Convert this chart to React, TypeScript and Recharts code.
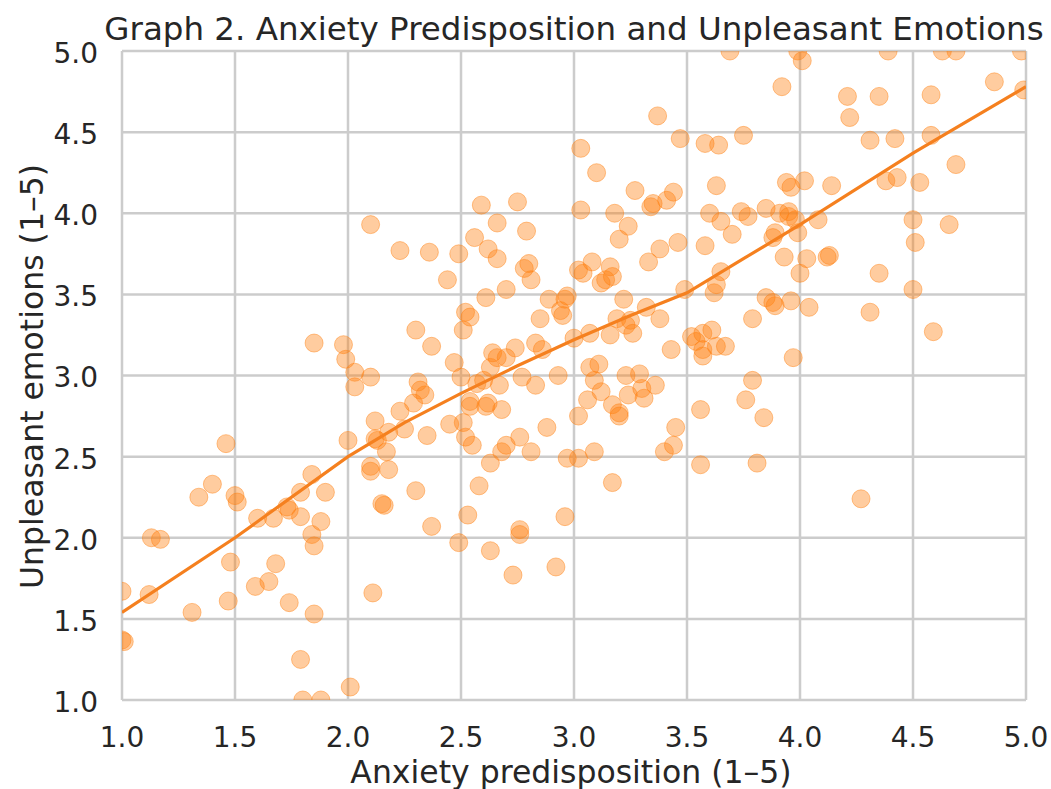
import { ScatterChart, Scatter, XAxis, YAxis, CartesianGrid } from 'recharts';

// anxiety predisposition (x) vs unpleasant emotions (y), one pair per respondent
const responses: [number, number][] = [
  [1.0, 1.67], [1.0, 1.37], [1.01, 1.36], [1.12, 1.65], [1.13, 2.0], [1.17, 1.99],
  [1.31, 1.54], [1.34, 2.25], [1.4, 2.33], [1.46, 2.58], [1.47, 1.61], [1.48, 1.85],
  [1.5, 2.26], [1.51, 2.22], [1.59, 1.7], [1.6, 2.12], [1.65, 1.73], [1.67, 2.12],
  [1.68, 1.84], [1.73, 2.19], [1.74, 2.17], [1.74, 1.6], [1.79, 2.28], [1.79, 2.13],
  [1.79, 1.25], [1.8, 1.0], [1.84, 2.39], [1.84, 2.02], [1.85, 1.95], [1.85, 1.53],
  [1.85, 3.2], [1.88, 1.0], [1.88, 2.1], [1.9, 2.28], [1.98, 3.19], [1.99, 3.1],
  [2.0, 2.6], [2.01, 1.08], [2.03, 3.02], [2.03, 2.93], [2.1, 3.93], [2.1, 2.99],
  [2.1, 2.44], [2.1, 2.41], [2.11, 1.66], [2.12, 2.72], [2.12, 2.61], [2.13, 2.6],
  [2.15, 2.21], [2.16, 2.2], [2.17, 2.53], [2.18, 2.42], [2.18, 2.65], [2.23, 3.77],
  [2.23, 2.78], [2.25, 2.67], [2.29, 2.83], [2.3, 2.29], [2.3, 3.28], [2.31, 2.96],
  [2.32, 2.91], [2.34, 2.88], [2.35, 2.63], [2.36, 3.76], [2.37, 3.18], [2.37, 2.07],
  [2.44, 3.59], [2.45, 2.7], [2.47, 3.08], [2.49, 3.75], [2.49, 1.97], [2.5, 2.99],
  [2.51, 2.71], [2.51, 3.28], [2.52, 3.39], [2.52, 2.62], [2.53, 2.14], [2.54, 3.36],
  [2.54, 2.84], [2.54, 2.81], [2.55, 2.57], [2.56, 3.85], [2.57, 2.95], [2.58, 2.32],
  [2.59, 4.05], [2.6, 2.97], [2.61, 2.81], [2.61, 3.48], [2.62, 3.78], [2.62, 2.83],
  [2.63, 3.05], [2.63, 2.46], [2.63, 1.92], [2.64, 3.14], [2.66, 3.94], [2.66, 3.72],
  [2.66, 3.11], [2.67, 2.94], [2.68, 2.79], [2.68, 2.53], [2.7, 2.57], [2.7, 3.53],
  [2.7, 3.11], [2.73, 1.77], [2.74, 3.17], [2.75, 4.07], [2.76, 2.62], [2.76, 2.05],
  [2.76, 2.02], [2.77, 2.99], [2.78, 3.66], [2.79, 3.89], [2.8, 3.69], [2.81, 2.53],
  [2.81, 3.59], [2.83, 3.2], [2.83, 2.94], [2.85, 3.35], [2.86, 3.16], [2.88, 2.68],
  [2.89, 3.47], [2.92, 1.82], [2.93, 3.0], [2.94, 3.4], [2.95, 3.37], [2.96, 3.47],
  [2.96, 2.13], [2.97, 2.49], [2.97, 3.49], [3.0, 3.23], [3.02, 2.49], [3.02, 2.75],
  [3.02, 3.65], [3.03, 4.4], [3.03, 4.02], [3.04, 3.63], [3.06, 2.85], [3.07, 3.05],
  [3.07, 3.26], [3.08, 3.7], [3.09, 2.53], [3.09, 2.97], [3.1, 4.25], [3.11, 3.07],
  [3.12, 2.9], [3.12, 3.57], [3.14, 3.59], [3.16, 3.67], [3.16, 3.25], [3.17, 2.34],
  [3.17, 2.82], [3.18, 4.0], [3.17, 3.61], [3.19, 3.35], [3.2, 3.84], [3.2, 2.77],
  [3.2, 2.75], [3.22, 3.47], [3.23, 3.0], [3.23, 3.31], [3.24, 3.92], [3.24, 2.88],
  [3.25, 3.34], [3.26, 3.26], [3.27, 4.14], [3.29, 3.01], [3.3, 2.92], [3.31, 2.86],
  [3.32, 3.42], [3.33, 3.7], [3.34, 4.04], [3.35, 4.06], [3.36, 2.94], [3.37, 4.6],
  [3.38, 3.78], [3.38, 3.35], [3.4, 2.53], [3.41, 4.08], [3.43, 3.16], [3.44, 2.57],
  [3.44, 4.13], [3.45, 2.68], [3.46, 3.82], [3.47, 4.46], [3.49, 3.53], [3.52, 3.24],
  [3.54, 3.21], [3.56, 2.79], [3.56, 2.45], [3.57, 3.16], [3.57, 3.12], [3.57, 3.26],
  [3.58, 4.43], [3.58, 3.8], [3.6, 4.0], [3.61, 3.28], [3.62, 3.51], [3.63, 4.17],
  [3.63, 3.56], [3.63, 3.18], [3.64, 4.42], [3.65, 3.95], [3.65, 3.64], [3.67, 3.18],
  [3.69, 5.0], [3.7, 3.87], [3.74, 4.01], [3.75, 4.48], [3.76, 2.85], [3.77, 3.98],
  [3.79, 3.35], [3.79, 2.97], [3.81, 2.46], [3.84, 2.74], [3.85, 4.03], [3.85, 3.48],
  [3.88, 3.85], [3.88, 3.45], [3.89, 3.88], [3.89, 3.43], [3.91, 4.0], [3.92, 4.78],
  [3.93, 3.73], [3.94, 4.19], [3.95, 4.01], [3.95, 3.98], [3.96, 4.16], [3.96, 3.46],
  [3.97, 3.11], [3.98, 3.96], [3.99, 3.88], [3.99, 5.0], [4.0, 3.63], [4.01, 4.94],
  [4.02, 4.2], [4.03, 3.72], [4.04, 3.42], [4.08, 3.96], [4.12, 3.73], [4.13, 3.74],
  [4.14, 4.17], [4.21, 4.72], [4.22, 4.59], [4.31, 4.45], [4.31, 3.39], [4.27, 2.24],
  [4.35, 4.72], [4.35, 3.63], [4.38, 4.2], [4.39, 5.0], [4.42, 4.46], [4.43, 4.22],
  [4.5, 3.53], [4.5, 3.96], [4.51, 3.82], [4.53, 4.19], [4.58, 4.73], [4.58, 4.48],
  [4.59, 3.27], [4.63, 5.0], [4.69, 5.0], [4.66, 3.93], [4.69, 4.3], [4.86, 4.81],
  [4.98, 5.0], [4.99, 4.76],
];

// smoothed trend
const trendX = [1.0, 1.5, 2.0, 2.25, 2.5, 2.75, 3.0, 3.25, 3.5, 3.75, 4.0, 4.5, 5.0];
const trendY = [1.54, 2.0, 2.5, 2.71, 2.89, 3.06, 3.22, 3.37, 3.51, 3.72, 3.93, 4.37, 4.78];

const ticks = [1.0, 1.5, 2.0, 2.5, 3.0, 3.5, 4.0, 4.5, 5.0];

const points = responses.map(([x, y]) => ({ x, y }));
const trend = trendX.map((x, i) => ({ x, y: trendY[i] }));

const FONT = '"DejaVu Sans", sans-serif';
const INK = '#262626';
const ORANGE = '#ff7f0e';

const Dot = (props: any) => (
  <circle
    cx={props.cx}
    cy={props.cy}
    r={9}
    fill={ORANGE}
    fillOpacity={0.4}
    stroke={ORANGE}
    strokeOpacity={0.45}
    strokeWidth={1}
  />
);

const NoDot = () => <g />;

const YTitle = (props: any) => {
  const { viewBox } = props;
  const cx = 43;
  const cy = viewBox.y + viewBox.height / 2 + 1;
  return (
    <text
      x={cx}
      y={cy}
      transform={`rotate(-90, ${cx}, ${cy})`}
      textAnchor="middle"
      fontSize={31.5}
      fontFamily={FONT}
      fill={INK}
    >
      Unpleasant emotions (1–5)
    </text>
  );
};

const XTitle = (props: any) => {
  const { viewBox } = props;
  return (
    <text
      x={viewBox.x + viewBox.width / 2 - 3}
      y={783}
      textAnchor="middle"
      fontSize={31.5}
      fontFamily={FONT}
      fill={INK}
    >
      Anxiety predisposition (1–5)
    </text>
  );
};

export default function App() {
  return (
    <div style={{ position: 'absolute', left: 0, top: 0, width: 1051, height: 789, background: '#fff' }}>
      <div
        style={{
          position: 'absolute',
          left: 0,
          top: 10,
          width: 1148,
          textAlign: 'center',
          fontFamily: FONT,
          fontSize: 32.5,
          lineHeight: '38px',
          color: INK,
          whiteSpace: 'nowrap',
        }}
      >
        Graph 2. Anxiety Predisposition and Unpleasant Emotions
      </div>
      <ScatterChart width={1051} height={789} margin={{ top: 51, right: 25, bottom: 29, left: 42 }}>
        <CartesianGrid stroke="#cccccc" strokeWidth={2.5} horizontalValues={ticks} verticalValues={ticks} />
        <XAxis
          type="number"
          dataKey="x"
          domain={[1, 5]}
          ticks={ticks}
          tickFormatter={(v: number) => v.toFixed(1)}
          axisLine={false}
          tickLine={false}
          tickSize={0}
          tickMargin={27}
          height={60}
          tick={{ fontSize: 28, fontFamily: FONT, fill: INK }}
          allowDataOverflow
          label={<XTitle />}
        />
        <YAxis
          type="number"
          dataKey="y"
          domain={[1, 5]}
          ticks={ticks}
          tickFormatter={(v: number) => v.toFixed(1)}
          axisLine={false}
          tickLine={false}
          tickSize={0}
          tickMargin={24}
          width={80}
          tick={{ fontSize: 28, fontFamily: FONT, fill: INK, dy: 2 }}
          allowDataOverflow
          label={<YTitle />}
        />
        <Scatter data={points} shape={Dot} isAnimationActive={false} />
        <Scatter
          data={trend}
          shape={NoDot}
          line={{ stroke: '#f5801f', strokeWidth: 3.2 }}
          lineType="joint"
          isAnimationActive={false}
        />
      </ScatterChart>
    </div>
  );
}
